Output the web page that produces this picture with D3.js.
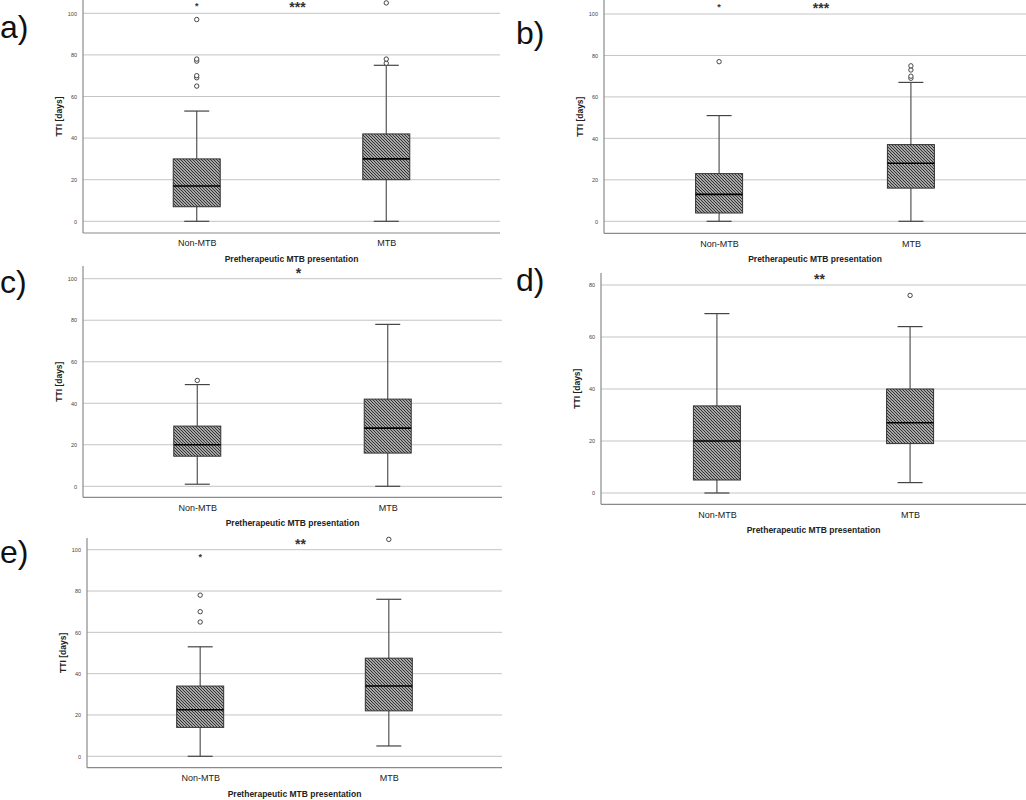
<!DOCTYPE html>
<html>
<head>
<meta charset="utf-8">
<script src="https://cdn.jsdelivr.net/npm/d3@7"></script>
<style>
	body { margin: 0; background: #fff; }
	svg { display: block; font-family: Arial, "Liberation Sans", sans-serif; }
</style>
</head>
<body>
<div id="chart"></div>
<script>
let categories = ["Non-MTB", "MTB"];
let panelLabels = ["a)", "b)", "c)", "d)", "e)"];
let significance = ["***", "***", "*", "**", "**"];
let yTicksFull = [0, 20, 40, 60, 80, 100];
let yTicksShort = [0, 20, 40, 60, 80];

// [min whisker, Q1, median, Q3, max whisker] for Non-MTB and MTB
let boxA = [[0, 7, 17, 30, 53], [0, 20, 30, 42, 75]];
let boxB = [[0, 4, 13, 23, 51], [0, 16, 28, 37, 67]];
let boxC = [[1, 14.5, 20, 29, 49], [0, 16, 28, 42, 78]];
let boxD = [[0, 5, 20, 33.5, 69], [4, 19, 27, 40, 64]];
let boxE = [[0, 14, 22.5, 34, 53], [5, 22, 34, 47.5, 76]];

// outliers (circles) and extremes (stars)
let outliersA = [[65, 69, 70, 77, 78, 97], [76, 78, 105]];
let extremesA = [[104], []];
let outliersB = [[77], [69, 70, 73, 75]];
let extremesB = [[104], []];
let outliersC = [[51], []];
let extremesC = [[], []];
let outliersD = [[], [76]];
let extremesD = [[], []];
let outliersE = [[65, 70, 78], [105]];
let extremesE = [[97], []];

let boxes = [boxA, boxB, boxC, boxD, boxE];
let outliers = [outliersA, outliersB, outliersC, outliersD, outliersE];
let extremes = [extremesA, extremesB, extremesC, extremesD, extremesE];
let yTicks = [yTicksFull, yTicksFull, yTicksFull, yTicksShort, yTicksFull];

// where each panel sits on the page
let layout = [
	{ left: 83, right: 500, top: 0, axisY: 233, y0: 221.3, yTop: 13.3, labX: 0, labY: 38 },
	{ left: 604, right: 1026, top: 0, axisY: 233.3, y0: 221.3, yTop: 14, labX: 516, labY: 44 },
	{ left: 83, right: 502, top: 266, axisY: 497.3, y0: 486.3, yTop: 278.7, labX: 0, labY: 293 },
	{ left: 601, right: 1026, top: 273, axisY: 504.3, y0: 493, yTop: 285, labX: 516, labY: 291 },
	{ left: 87, right: 502, top: 538, axisY: 767.7, y0: 756.3, yTop: 549.7, labX: 0, labY: 563 }
];

let svg = d3.select("#chart")
	.append("svg")
	.attr("width", 1026)
	.attr("height", 800);

let pat = svg.append("defs").append("pattern")
	.attr("id", "hatch")
	.attr("patternUnits", "userSpaceOnUse")
	.attr("width", 3)
	.attr("height", 3);
pat.append("rect").attr("width", 3).attr("height", 3).attr("fill", "#fff");
pat.append("path")
	.attr("d", "M0,0L3,3M-1,2L1,4M2,-1L4,1")
	.attr("stroke", "#333")
	.attr("stroke-width", 1.25);

for (let p = 0; p < 5; p++) {
	let L = layout[p];
	let ticks = yTicks[p];
	let g = svg.append("g");

	let y = d3.scaleLinear()
		.domain([0, ticks[ticks.length - 1]])
		.range([L.y0, L.yTop]);

	let x = d3.scalePoint()
		.domain(categories)
		.range([L.left, L.right])
		.padding(0.6);

	// grid lines
	g.selectAll(".grid")
		.data(ticks)
		.enter().append("line")
		.attr("x1", L.left)
		.attr("x2", L.right)
		.attr("y1", d => y(d))
		.attr("y2", d => y(d))
		.attr("stroke", "#c4c4c4")
		.attr("stroke-width", 1);

	// y axis: labels only, no domain path
	let yAxis = g.append("g")
		.attr("transform", "translate(" + L.left + ",0)")
		.call(d3.axisLeft(y).tickValues(ticks).tickSize(0).tickPadding(6));
	yAxis.select(".domain").remove();
	yAxis.selectAll("text")
		.attr("font-size", 5.5)
		.attr("fill", "#444")
		.attr("font-family", "Arial, 'Liberation Sans', sans-serif");

	// frame lines
	g.append("line")
		.attr("x1", L.left).attr("x2", L.left)
		.attr("y1", L.top).attr("y2", L.axisY)
		.attr("stroke", "#8a8a8a").attr("stroke-width", 1.2);
	g.append("line")
		.attr("x1", L.left).attr("x2", L.right)
		.attr("y1", L.axisY).attr("y2", L.axisY)
		.attr("stroke", "#8a8a8a").attr("stroke-width", 1.2);

	// x axis labels
	let xAxis = g.append("g")
		.attr("transform", "translate(0," + L.axisY + ")")
		.call(d3.axisBottom(x).tickSize(0).tickPadding(7));
	xAxis.select(".domain").remove();
	xAxis.selectAll("text")
		.attr("font-size", 9)
		.attr("fill", "#222")
		.attr("font-family", "Arial, 'Liberation Sans', sans-serif");

	let mid = (x(categories[0]) + x(categories[1])) / 2;

	g.append("text")
		.attr("x", mid)
		.attr("y", L.axisY + 29)
		.attr("text-anchor", "middle")
		.attr("font-size", 8.5)
		.attr("font-weight", "bold")
		.attr("fill", "#222")
		.text("Pretherapeutic MTB presentation");

	g.append("text")
		.attr("transform", "translate(" + (L.left - 21) + "," + ((L.top + L.axisY) / 2) + ") rotate(-90)")
		.attr("text-anchor", "middle")
		.attr("font-size", 8.5)
		.attr("font-weight", "bold")
		.attr("fill", "#222")
		.text("TTI [days]");

	// panel letter
	g.append("text")
		.attr("x", L.labX)
		.attr("y", L.labY)
		.attr("font-size", 32)
		.attr("fill", "#111")
		.text(panelLabels[p]);

	// significance stars
	g.append("text")
		.attr("x", mid + 6)
		.attr("y", L.yTop - 1)
		.attr("text-anchor", "middle")
		.attr("font-size", 14)
		.attr("font-weight", "bold")
		.attr("fill", "#333")
		.text(significance[p]);

	let bw = 47, cw = 25;
	let box = g.selectAll(".box")
		.data(boxes[p])
		.enter().append("g");

	// whiskers
	box.append("line")
		.attr("x1", (d, i) => x(categories[i]))
		.attr("x2", (d, i) => x(categories[i]))
		.attr("y1", d => y(d[0]))
		.attr("y2", d => y(d[4]))
		.attr("stroke", "#555").attr("stroke-width", 1.2);
	box.append("line")
		.attr("x1", (d, i) => x(categories[i]) - cw / 2)
		.attr("x2", (d, i) => x(categories[i]) + cw / 2)
		.attr("y1", d => y(d[0]))
		.attr("y2", d => y(d[0]))
		.attr("stroke", "#444").attr("stroke-width", 1.2);
	box.append("line")
		.attr("x1", (d, i) => x(categories[i]) - cw / 2)
		.attr("x2", (d, i) => x(categories[i]) + cw / 2)
		.attr("y1", d => y(d[4]))
		.attr("y2", d => y(d[4]))
		.attr("stroke", "#444").attr("stroke-width", 1.2);

	box.append("rect")
		.attr("x", (d, i) => x(categories[i]) - bw / 2)
		.attr("y", d => y(d[3]))
		.attr("width", bw)
		.attr("height", d => y(d[1]) - y(d[3]))
		.attr("fill", "url(#hatch)")
		.attr("stroke", "#333")
		.attr("stroke-width", 1);

	box.append("line")
		.attr("x1", (d, i) => x(categories[i]) - bw / 2)
		.attr("x2", (d, i) => x(categories[i]) + bw / 2)
		.attr("y1", d => y(d[2]))
		.attr("y2", d => y(d[2]))
		.attr("stroke", "#000").attr("stroke-width", 1.6);

	// outliers
	outliers[p].forEach(function (vals, i) {
		g.selectAll(null)
			.data(vals)
			.enter().append("circle")
			.attr("cx", x(categories[i]))
			.attr("cy", d => y(d))
			.attr("r", 2.2)
			.attr("fill", "#fff")
			.attr("stroke", "#333")
			.attr("stroke-width", 0.9);
	});
	extremes[p].forEach(function (vals, i) {
		g.selectAll(null)
			.data(vals)
			.enter().append("text")
			.attr("x", x(categories[i]))
			.attr("y", d => y(d) + 4)
			.attr("text-anchor", "middle")
			.attr("font-size", 9)
			.attr("font-weight", "bold")
			.attr("fill", "#333")
			.text("*");
	});
}
</script>
</body>
</html>
